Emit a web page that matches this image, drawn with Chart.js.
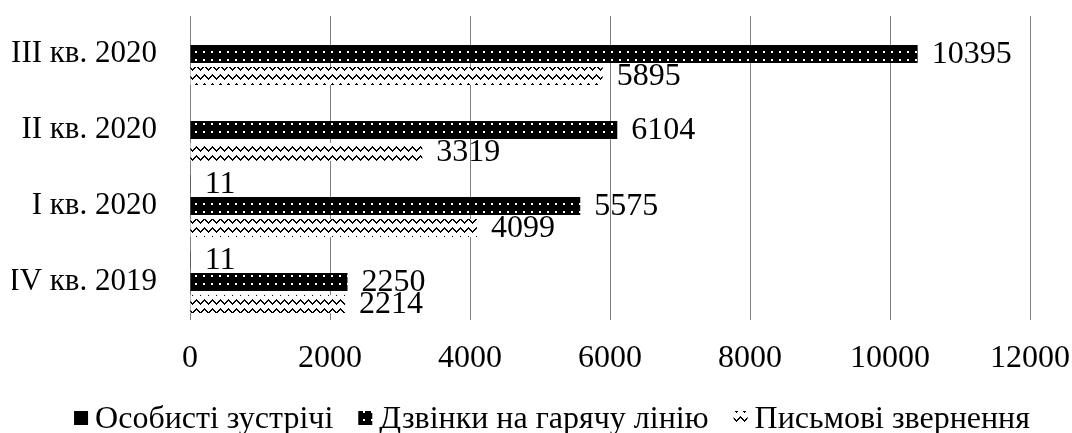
<!DOCTYPE html>
<html>
<head>
<meta charset="utf-8">
<script src="https://cdn.jsdelivr.net/npm/chart.js@4.4.1/dist/chart.umd.min.js"></script>
<style>
  html, body { margin: 0; padding: 0; background: #ffffff; }
  #wrap { width: 1072px; height: 433px; }
</style>
</head>
<body>
<div id="wrap"><canvas id="c" width="1072" height="433"></canvas></div>
<script>
// Quarters, top to bottom
const quarters = ['III кв. 2020', 'II кв. 2020', 'I кв. 2020', 'IV кв. 2019'];
const seriesNames = ['Особисті зустрічі', 'Дзвінки на гарячу лінію', 'Письмові звернення'];
const personalMeetings = [null, null, 11, 11];
const hotlineCalls = [10395, 6104, 5575, 2250];
const writtenRequests = [5895, 3319, 4099, 2214];
const xTicks = [0, 2000, 4000, 6000, 8000, 10000, 12000];

const FONT_FAMILY = '"Liberation Serif", "Times New Roman", serif';
const FONT_SIZE = 32;
const CAT_FONT_SIZE = 31;

// Black fill sprinkled with small white dashes
function dottedBlackPattern() {
  const t = document.createElement('canvas');
  t.width = 8; t.height = 8;
  const g = t.getContext('2d');
  g.fillStyle = '#000';
  g.fillRect(0, 0, 8, 8);
  g.fillStyle = '#fff';
  g.fillRect(3, 3, 2, 2);
  return g.createPattern(t, 'repeat');
}

// White fill with rows of small black chevrons
function zigzagPattern() {
  const t = document.createElement('canvas');
  t.width = 8; t.height = 9;
  const g = t.getContext('2d');
  g.fillStyle = '#fff';
  g.fillRect(0, 0, 8, 9);
  g.fillStyle = '#000';
  const ys = [6, 5, 4, 3, 2, 3, 4, 5];
  ys.forEach((y, x) => g.fillRect(x, y, 1, 2));
  return g.createPattern(t, 'repeat');
}

const fills = ['#000000', dottedBlackPattern(), zigzagPattern()];

// Value labels just past the end of each bar
const valueLabels = {
  id: 'valueLabels',
  afterDatasetsDraw(chart) {
    const ctx = chart.ctx;
    ctx.save();
    ctx.font = FONT_SIZE + 'px ' + FONT_FAMILY;
    ctx.fillStyle = '#000';
    ctx.textAlign = 'left';
    ctx.textBaseline = 'middle';
    chart.data.datasets.forEach((ds, i) => {
      const meta = chart.getDatasetMeta(i);
      meta.data.forEach((el, j) => {
        const v = ds.data[j];
        if (v === null || v === undefined) return;
        ctx.fillText(String(v), el.x + 14, el.y + 1);
      });
    });
    ctx.restore();
  }
};

// Legend row at the bottom
const bottomLegend = {
  id: 'bottomLegend',
  afterDraw(chart) {
    const ctx = chart.ctx;
    ctx.save();
    ctx.font = FONT_SIZE + 'px ' + FONT_FAMILY;
    ctx.textBaseline = 'middle';
    ctx.textAlign = 'left';
    const box = 14, gap = 7, itemGap = 25;
    const widths = seriesNames.map(n => ctx.measureText(n).width);
    const total = widths.reduce((a, w) => a + box + gap + w, 0) + itemGap * (seriesNames.length - 1);
    let x = 552 - total / 2;
    const cy = 420;
    seriesNames.forEach((name, i) => {
      ctx.fillStyle = fills[i];
      ctx.fillRect(x, cy - box / 2 - 2, box, box);
      ctx.fillStyle = '#000';
      ctx.fillText(name, x + box + gap, cy);
      x += box + gap + widths[i] + itemGap;
    });
    ctx.restore();
  }
};

const datasets = [personalMeetings, hotlineCalls, writtenRequests].map((vals, i) => ({
  label: seriesNames[i],
  data: vals,
  backgroundColor: fills[i],
  borderWidth: 0,
  categoryPercentage: 0.87,
  barPercentage: 0.82
}));

const chart = new Chart(document.getElementById('c'), {
  type: 'bar',
  data: { labels: quarters, datasets },
  options: {
    indexAxis: 'y',
    responsive: false,
    animation: false,
    devicePixelRatio: 1,
    layout: { padding: { top: 16, left: 12, right: 42, bottom: 50 } },
    plugins: { legend: { display: false }, tooltip: { enabled: false } },
    scales: {
      x: {
        min: xTicks[0],
        max: xTicks[xTicks.length - 1],
        afterBuildTicks(scale) { scale.ticks = xTicks.map(v => ({ value: v })); },
        afterFit(scale) {
          scale.height = 63;
          scale.paddingLeft = 0; scale.paddingRight = 0;
        },
        ticks: {
          color: '#000', padding: 19,
          font: { family: FONT_FAMILY, size: FONT_SIZE },
          callback: v => String(v)
        },
        grid: { color: '#808080', lineWidth: 1, drawTicks: false },
        border: { display: false }
      },
      y: {
        afterFit(scale) {
          scale.width = 178;
          scale.paddingTop = 0; scale.paddingBottom = 0;
        },
        ticks: { color: '#000', padding: 33, font: { family: FONT_FAMILY, size: CAT_FONT_SIZE } },
        grid: { display: false, drawTicks: false },
        border: { display: false }
      }
    }
  },
  plugins: [valueLabels, bottomLegend]
});
</script>
</body>
</html>
